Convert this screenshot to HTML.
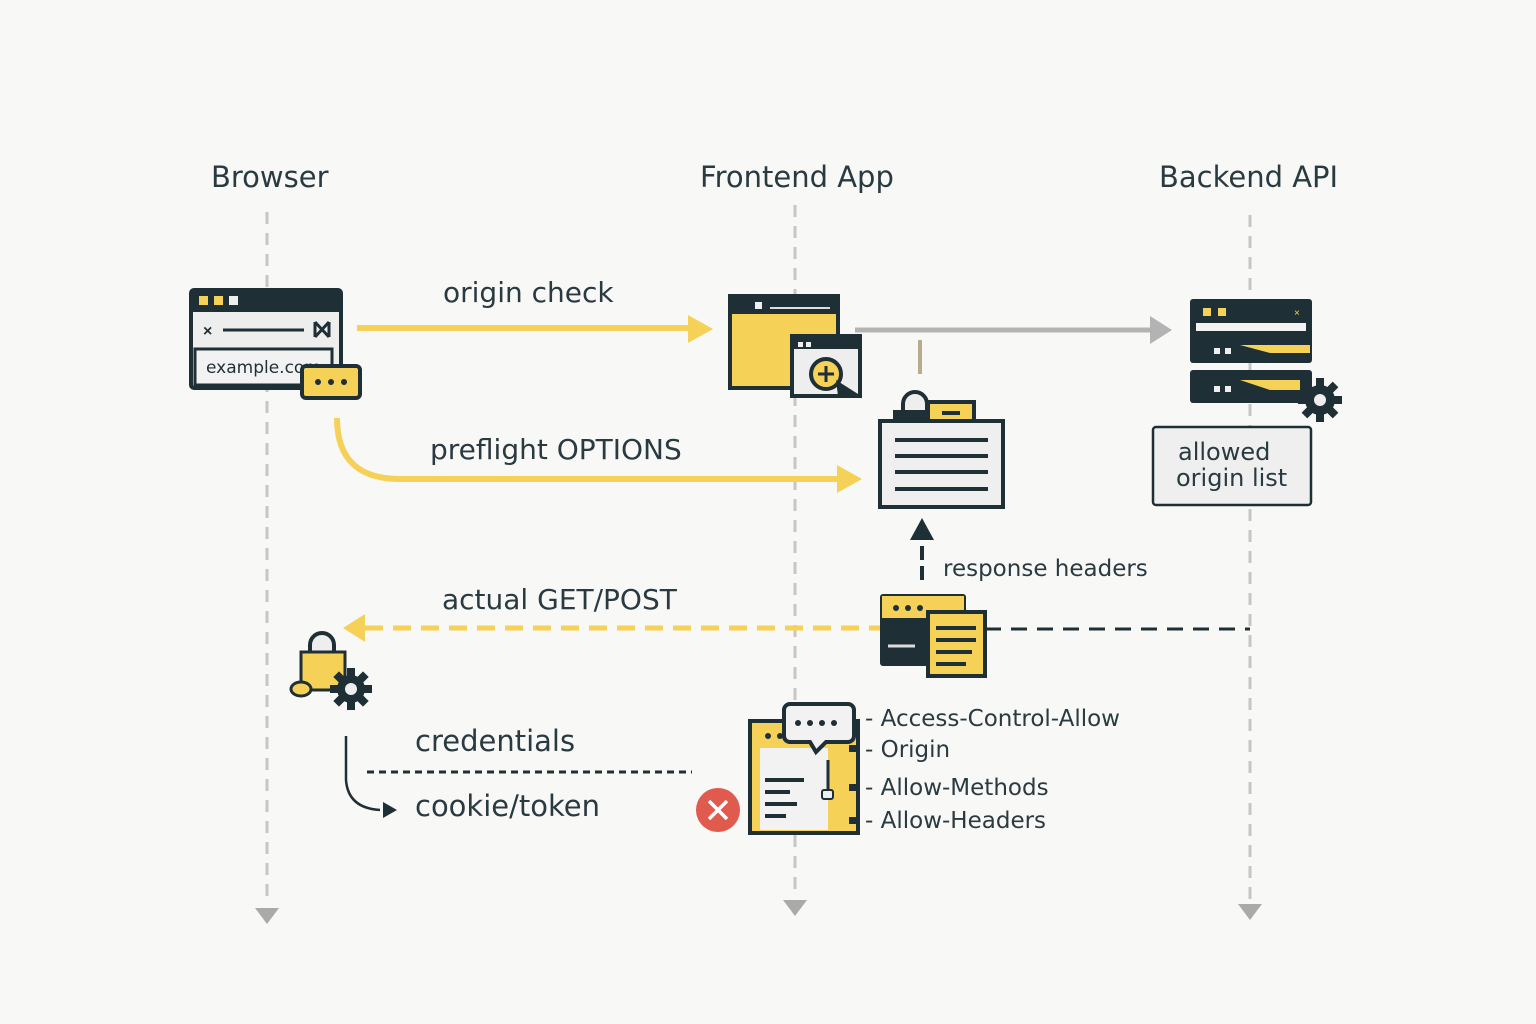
<!DOCTYPE html>
<html><head><meta charset="utf-8"><style>
html,body{margin:0;padding:0;background:#f8f8f6;}
svg{display:block;font-family:"Liberation Sans","DejaVu Sans",sans-serif;}
</style></head><body>
<svg width="1536" height="1024" viewBox="0 0 1536 1024" xmlns="http://www.w3.org/2000/svg">
<rect width="1536" height="1024" fill="#f8f8f6"/>
<g font-family="DejaVu Sans, sans-serif" fill="#2a3a41">
<text x="211" y="187" font-size="29">Browser</text>
<text x="700" y="187" font-size="29">Frontend App</text>
<text x="1159" y="187" font-size="29">Backend API</text>
</g>
<!-- lifelines -->
<g stroke="#c6c6c6" stroke-width="3" stroke-dasharray="12 9" fill="none">
<line x1="267" y1="212" x2="267" y2="905"/>
<line x1="795" y1="205" x2="795" y2="898"/>
<line x1="1250" y1="215" x2="1250" y2="905"/>
</g>
<g fill="#aaa">
<polygon points="255,908 279,908 267,924"/>
<polygon points="783,900 807,900 795,916"/>
<polygon points="1238,904 1262,904 1250,920"/>
</g>
<!-- browser window icon -->
<rect x="191" y="290" width="150" height="98" rx="3" fill="#eee" stroke="#1f2f36" stroke-width="4"/>
<rect x="191" y="290" width="150" height="22" fill="#1f2f36"/>
<rect x="199" y="296" width="9" height="9" fill="#f5d158"/><rect x="214" y="296" width="9" height="9" fill="#f5d158"/><rect x="229" y="296" width="9" height="9" fill="#eee"/>
<text x="203" y="336" font-size="16" fill="#1f2f36" font-weight="bold">×</text>
<line x1="223" y1="330" x2="304" y2="330" stroke="#1f2f36" stroke-width="3"/>
<path d="M315 322 L329 337 M329 322 L315 337 M315 322 V337 M329 322 V337" stroke="#1f2f36" stroke-width="3"/>
<rect x="195" y="349" width="137" height="36" fill="#f2f2f2" stroke="#1f2f36" stroke-width="3"/>
<text x="206" y="373" font-size="17" fill="#1f2f36" font-family="DejaVu Sans, sans-serif">example.com</text>
<rect x="302" y="366" width="58" height="32" rx="4" fill="#f5d158" stroke="#1f2f36" stroke-width="4"/>
<circle cx="318" cy="382" r="3" fill="#1f2f36"/><circle cx="331" cy="382" r="3" fill="#1f2f36"/><circle cx="344" cy="382" r="3" fill="#1f2f36"/>
<!-- origin check arrow -->
<text x="443" y="302" font-size="28" fill="#2a3a41" font-family="DejaVu Sans, sans-serif">origin check</text>
<line x1="357" y1="328" x2="695" y2="328" stroke="#f5d158" stroke-width="6"/>
<polygon points="688,315 713,329 688,343" fill="#f5d158"/>
<!-- frontend window -->
<rect x="730" y="296" width="108" height="92" fill="#f5d158" stroke="#1f2f36" stroke-width="4"/>
<rect x="730" y="296" width="108" height="18" fill="#1f2f36"/>
<rect x="755" y="302" width="7" height="7" fill="#eee"/><line x1="770" y1="308" x2="830" y2="308" stroke="#ddd" stroke-width="2"/>
<rect x="792" y="336" width="68" height="60" fill="#eee" stroke="#1f2f36" stroke-width="4"/>
<rect x="792" y="336" width="68" height="13" fill="#1f2f36"/>
<rect x="798" y="342" width="5" height="5" fill="#eee"/><rect x="806" y="342" width="5" height="5" fill="#eee"/>
<circle cx="826" cy="374" r="15" fill="#f5d158" stroke="#1f2f36" stroke-width="4"/>
<path d="M826 366 V382 M818 374 H834" stroke="#1f2f36" stroke-width="3"/>
<polygon points="836,380 858,394 838,396" fill="#1f2f36"/>
<!-- gray arrow -->
<line x1="855" y1="330" x2="1152" y2="330" stroke="#b3b3b3" stroke-width="5"/>
<polygon points="1150,316 1172,330 1150,344" fill="#b3b3b3"/>
<line x1="920" y1="340" x2="920" y2="374" stroke="#b8ad8a" stroke-width="4"/>
<!-- backend server -->
<rect x="1190" y="299" width="122" height="64" rx="3" fill="#1f2f36"/>
<rect x="1203" y="308" width="8" height="8" fill="#f5d158"/><rect x="1218" y="308" width="8" height="8" fill="#f5d158"/>
<text x="1294" y="316" font-size="10" fill="#f5d158">×</text>
<rect x="1196" y="323" width="110" height="8" fill="#f3f3f3"/>
<path d="M1240 345 H1310 V353 H1270 Z" fill="#f5d158"/>
<rect x="1214" y="348" width="6" height="6" fill="#eee"/><rect x="1225" y="348" width="6" height="6" fill="#eee"/>
<rect x="1190" y="370" width="122" height="33" rx="3" fill="#1f2f36"/>
<path d="M1240 380 H1300 V390 H1270 Z" fill="#f5d158"/>
<rect x="1214" y="386" width="6" height="6" fill="#eee"/><rect x="1225" y="386" width="6" height="6" fill="#eee"/>
<g transform="translate(1320,400)"><circle r="15" fill="#1f2f36"/><g fill="#1f2f36"><rect x="-4" y="-22" width="8" height="44"/><rect x="-22" y="-4" width="44" height="8"/><rect x="-4" y="-22" width="8" height="44" transform="rotate(45)"/><rect x="-4" y="-22" width="8" height="44" transform="rotate(-45)"/></g><circle r="6" fill="#eee"/></g>
<rect x="1153" y="427" width="158" height="78" rx="3" fill="#efefef" stroke="#1f2f36" stroke-width="2.5"/>
<text x="1178" y="460" font-size="24" fill="#2a3a41" font-family="DejaVu Sans, sans-serif">allowed</text>
<text x="1176" y="486" font-size="24" fill="#2a3a41" font-family="DejaVu Sans, sans-serif">origin list</text>
<!-- preflight -->
<text x="430" y="459" font-size="28" fill="#2a3a41" font-family="DejaVu Sans, sans-serif">preflight OPTIONS</text>
<path d="M337 418 Q337 479 400 479 L842 479" stroke="#f5d158" stroke-width="6" fill="none"/>
<polygon points="837,465 862,479 837,493" fill="#f5d158"/>
<!-- document icon -->
<path d="M903 412 V404 A12 12 0 0 1 927 404 V412" stroke="#1f2f36" stroke-width="4" fill="#eee"/>
<rect x="893" y="410" width="40" height="13" fill="#1f2f36"/>
<rect x="928" y="402" width="46" height="22" fill="#f5d158" stroke="#1f2f36" stroke-width="4"/>
<line x1="942" y1="413" x2="960" y2="413" stroke="#1f2f36" stroke-width="4"/>
<rect x="880" y="421" width="123" height="86" fill="#efefef" stroke="#1f2f36" stroke-width="4"/>
<g stroke="#1f2f36" stroke-width="4"><line x1="895" y1="440" x2="988" y2="440"/><line x1="895" y1="456" x2="988" y2="456"/><line x1="895" y1="472" x2="988" y2="472"/><line x1="895" y1="489" x2="988" y2="489"/></g>
<!-- response headers -->
<line x1="922" y1="580" x2="922" y2="536" stroke="#1f2f36" stroke-width="4" stroke-dasharray="14 6"/>
<polygon points="910,540 922,518 934,540" fill="#1f2f36"/>
<text x="943" y="576" font-size="23" fill="#2a3a41" font-family="DejaVu Sans, sans-serif">response headers</text>
<!-- actual GET/POST -->
<text x="442" y="609" font-size="28" fill="#2a3a41" font-family="DejaVu Sans, sans-serif">actual GET/POST</text>
<line x1="365" y1="628" x2="880" y2="628" stroke="#f5d158" stroke-width="5" stroke-dasharray="18 10"/>
<polygon points="365,614 343,628 365,642" fill="#f5d158"/>
<line x1="985" y1="629" x2="1250" y2="629" stroke="#1f2f36" stroke-width="3" stroke-dasharray="16 10"/>
<rect x="880" y="594" width="86" height="72" rx="3" fill="#1f2f36"/>
<rect x="882" y="596" width="82" height="22" fill="#f5d158"/>
<circle cx="896" cy="608" r="3" fill="#1f2f36"/><circle cx="908" cy="608" r="3" fill="#1f2f36"/><circle cx="920" cy="608" r="3" fill="#1f2f36"/>
<line x1="888" y1="646" x2="915" y2="646" stroke="#ddd" stroke-width="3"/>
<rect x="928" y="612" width="57" height="64" fill="#f5d158" stroke="#1f2f36" stroke-width="4"/>
<g stroke="#1f2f36" stroke-width="4"><line x1="936" y1="628" x2="976" y2="628"/><line x1="936" y1="640" x2="976" y2="640"/><line x1="936" y1="652" x2="972" y2="652"/><line x1="936" y1="664" x2="966" y2="664"/></g>
<!-- lock + gear -->
<path d="M310 652 V645 A12 12 0 0 1 334 645 V652" stroke="#1f2f36" stroke-width="4" fill="#eee"/>
<rect x="301" y="652" width="44" height="38" fill="#f5d158" stroke="#1f2f36" stroke-width="3"/>
<ellipse cx="301" cy="689" rx="10" ry="7" fill="#f5d158" stroke="#1f2f36" stroke-width="3"/>
<g transform="translate(351,689)"><circle r="14" fill="#1f2f36"/><g fill="#1f2f36"><rect x="-4" y="-21" width="8" height="42"/><rect x="-21" y="-4" width="42" height="8"/><rect x="-4" y="-21" width="8" height="42" transform="rotate(45)"/><rect x="-4" y="-21" width="8" height="42" transform="rotate(-45)"/></g><circle r="6" fill="#eee"/></g>
<!-- credentials -->
<text x="415" y="751" font-size="29" fill="#2a3a41" font-family="DejaVu Sans, sans-serif">credentials</text>
<line x1="367" y1="772" x2="692" y2="772" stroke="#1f2f36" stroke-width="3" stroke-dasharray="7 5"/>
<path d="M346 736 V780 Q348 808 380 810" stroke="#1f2f36" stroke-width="2.5" fill="none"/>
<polygon points="383,802 397,810 383,818" fill="#1f2f36"/>
<text x="415" y="816" font-size="29" fill="#2a3a41" font-family="DejaVu Sans, sans-serif">cookie/token</text>
<circle cx="718" cy="810" r="22" fill="#e05a4e"/>
<path d="M709 801 L727 819 M727 801 L709 819" stroke="#fff" stroke-width="3.5"/>
<!-- header doc icon -->
<rect x="750" y="721" width="108" height="112" fill="#f5d158" stroke="#1f2f36" stroke-width="4"/>
<rect x="760" y="748" width="68" height="82" fill="#f2f2f2"/>
<circle cx="768" cy="736" r="3" fill="#1f2f36"/><circle cx="780" cy="736" r="3" fill="#1f2f36"/>
<g stroke="#1f2f36" stroke-width="4"><line x1="765" y1="780" x2="804" y2="780"/><line x1="765" y1="792" x2="790" y2="792"/><line x1="765" y1="804" x2="797" y2="804"/><line x1="765" y1="816" x2="786" y2="816"/></g>
<line x1="828" y1="760" x2="828" y2="793" stroke="#1f2f36" stroke-width="3"/>
<rect x="822" y="790" width="11" height="9" rx="2" fill="#eee" stroke="#1f2f36" stroke-width="2"/>
<path d="M790 704 H848 A6 6 0 0 1 854 710 V736 A6 6 0 0 1 848 742 H826 L816 752 L810 742 H790 A6 6 0 0 1 784 736 V710 A6 6 0 0 1 790 704 Z" fill="#f2f2f2" stroke="#1f2f36" stroke-width="4"/>
<circle cx="798" cy="723" r="3" fill="#1f2f36"/><circle cx="810" cy="723" r="3" fill="#1f2f36"/><circle cx="822" cy="723" r="3" fill="#1f2f36"/><circle cx="834" cy="723" r="3" fill="#1f2f36"/>
<g fill="#1f2f36"><rect x="849" y="745" width="7" height="7"/><rect x="849" y="784" width="7" height="7"/><rect x="849" y="817" width="7" height="7"/></g>
<g font-size="23" fill="#2a3a41" font-family="DejaVu Sans, sans-serif">
<text x="865" y="726">- Access-Control-Allow</text>
<text x="865" y="757">- Origin</text>
<text x="865" y="795">- Allow-Methods</text>
<text x="865" y="828">- Allow-Headers</text>
</g>
</svg>
</body></html>
